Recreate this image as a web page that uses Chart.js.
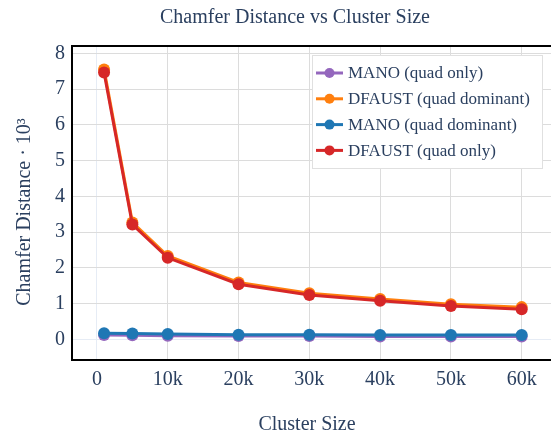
<!DOCTYPE html>
<html>
<head>
<meta charset="utf-8">
<script src="https://cdn.jsdelivr.net/npm/chart.js@4.4.0/dist/chart.umd.min.js"></script>
<style>
  html, body { margin: 0; padding: 0; background: #fff; overflow: hidden; }
  #wrap { width: 551px; height: 435px; position: relative; }
</style>
</head>
<body>
<div id="wrap"><canvas id="chamfer"></canvas></div>
<script>
"use strict";

// Data
var clusterSizes = [1000, 5000, 10000, 20000, 30000, 40000, 50000, 60000];
var xTicks = [0, 10000, 20000, 30000, 40000, 50000, 60000];
var yTicks = [0, 1, 2, 3, 4, 5, 6, 7, 8];

var manoQuadOnly      = [0.12, 0.11, 0.10, 0.09, 0.09, 0.08, 0.08, 0.08];
var dfaustQuadDom     = [7.55, 3.27, 2.33, 1.59, 1.29, 1.13, 0.98, 0.90];
var manoQuadDom       = [0.17, 0.16, 0.15, 0.13, 0.13, 0.12, 0.12, 0.12];
var dfaustQuadOnly    = [7.46, 3.21, 2.28, 1.54, 1.24, 1.08, 0.93, 0.84];

var seriesNames = ["MANO (quad only)", "DFAUST (quad dominant)", "MANO (quad dominant)", "DFAUST (quad only)"];
var seriesColors = ["#9467bd", "#ff7f0e", "#1f77b4", "#d62728"];
var seriesValues = [manoQuadOnly, dfaustQuadDom, manoQuadDom, dfaustQuadOnly];

var textColor = "#2a3f5f";
var serif = '"Liberation Serif", serif';

function toPoints(vals) {
    return vals.map(function (v, i) { return { x: clusterSizes[i], y: v }; });
}

var datasets = seriesValues.map(function (vals, i) {
    return {
        label: seriesNames[i],
        data: toPoints(vals),
        borderColor: seriesColors[i],
        backgroundColor: seriesColors[i],
        borderWidth: 3,
        pointRadius: 6,
        pointBorderWidth: 0,
        order: 4 - i
    };
});

function gridColor(ctx) {
    return ctx.tick && ctx.tick.value === 0 ? "#e6ecf5" : "#dcdcdc";
}

// Titles, frame top line and legend
var decorations = {
    id: "decorations",
    afterDraw: function (chart) {
        var c = chart.ctx;
        var a = chart.chartArea;
        c.save();

        c.strokeStyle = "#000";
        c.lineWidth = 2;
        c.beginPath();
        c.moveTo(a.left - 1, a.top);
        c.lineTo(a.right, a.top);
        c.stroke();

        c.fillStyle = textColor;
        c.textAlign = "center";
        c.textBaseline = "middle";
        c.font = "20px " + serif;
        c.fillText("Chamfer Distance vs Cluster Size", 295, 18);
        c.fillText("Cluster Size", 307, 425);

        c.save();
        c.translate(25, 212);
        c.rotate(-Math.PI / 2);
        c.fillText("Chamfer Distance \u00b7 10\u00b3", 0, 0);
        c.restore();

        // legend box
        var lx = 312, ly = 55, lw = 230, lh = 113;
        c.fillStyle = "#fff";
        c.fillRect(lx, ly, lw, lh);
        c.strokeStyle = "#e0e0e0";
        c.lineWidth = 1;
        c.strokeRect(lx + 0.5, ly + 0.5, lw, lh);

        c.font = "17px " + serif;
        c.textAlign = "left";
        seriesNames.forEach(function (name, i) {
            var y = 73 + i * 25.8;
            c.strokeStyle = seriesColors[i];
            c.lineWidth = 3;
            c.beginPath();
            c.moveTo(316, y);
            c.lineTo(343, y);
            c.stroke();
            c.fillStyle = seriesColors[i];
            c.beginPath();
            c.arc(329.5, y, 5, 0, Math.PI * 2);
            c.fill();
            c.fillStyle = textColor;
            c.fillText(name, 348, y + 1);
        });
        c.restore();
    }
};

var ctx = document.getElementById("chamfer").getContext("2d");
var chamferChart = new Chart(ctx, {
    type: "line",
    data: { datasets: datasets },
    plugins: [decorations],
    options: {
        responsive: true,
        maintainAspectRatio: false,
        animation: false,
        layout: { autoPadding: false, padding: { top: 46, right: 0, bottom: 0, left: 0 } },
        plugins: {
            legend: { display: false },
            title: { display: false },
            tooltip: { enabled: false }
        },
        scales: {
            x: {
                type: "linear",
                min: -3529,
                max: 64140,
                afterBuildTicks: function (scale) {
                    scale.ticks = xTicks.map(function (v) { return { value: v }; });
                },
                afterFit: function (scale) { scale.height = 75; },
                ticks: {
                    color: textColor,
                    font: { family: serif, size: 20 },
                    padding: 8,
                    maxRotation: 0,
                    callback: function (v) { return v === 0 ? "0" : (v / 1000) + "k"; }
                },
                grid: { color: gridColor, lineWidth: 1, drawTicks: false },
                border: { color: "#000", width: 2 }
            },
            y: {
                type: "linear",
                min: -0.579,
                max: 8.204,
                afterBuildTicks: function (scale) {
                    scale.ticks = yTicks.map(function (v) { return { value: v }; });
                },
                afterFit: function (scale) { scale.width = 72; },
                ticks: {
                    color: textColor,
                    font: { family: serif, size: 20 },
                    padding: 7
                },
                grid: { color: gridColor, lineWidth: 1, drawTicks: false },
                border: { color: "#000", width: 2 }
            }
        }
    }
});
</script>
</body>
</html>
